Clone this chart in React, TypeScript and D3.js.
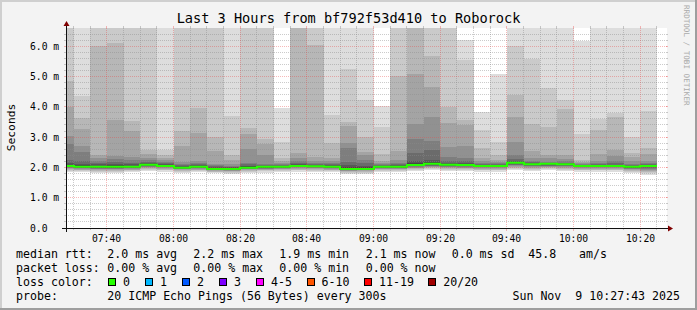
import React from "react";
import * as d3 from "d3";

// ---- data ----
const stepEnds = ["07:30","07:35","07:40","07:45","07:50","07:55","08:00","08:05","08:10","08:15","08:20","08:25","08:30","08:35","08:40","08:45","08:50","08:55","09:00","09:05","09:10","09:15","09:20","09:25","09:30","09:35","09:40","09:45","09:50","09:55","10:00","10:05","10:10","10:15","10:20","10:25"];

const medians = [2.05,2.02,2.02,2.02,2.02,2.09,2.05,1.99,2.02,1.95,1.95,1.99,2.02,2.02,2.05,2.04,2.02,1.95,1.95,2.02,2.02,2.08,2.12,2.09,2.08,2.05,2.05,2.15,2.1,2.12,2.1,2.05,2.05,2.05,2.02,2.05];

// 20 sorted ping RTTs (ms) per 5-minute step
const pingRows: number[][] = [
  [1.85,1.89,1.92,1.95,1.97,1.99,2.01,2.02,2.03,2.04, 2.06,2.09,2.14,2.24,2.77,3.04,3.98,4.85,7,7],
  [1.84,1.88,1.91,1.93,1.95,1.97,1.98,1.99,2.0,2.01, 2.04,2.07,2.12,2.2,2.51,2.69,3.27,3.63,4.36,7],
  [1.83,1.86,1.89,1.92,1.95,1.96,1.97,1.98,1.99,2.0, 2.04,2.06,2.1,2.15,2.22,2.3,2.4,6.0,7,7],
  [1.83,1.86,1.89,1.92,1.95,1.96,1.97,1.98,1.99,2.0, 2.04,2.07,2.11,2.18,2.28,2.36,3.56,6.11,7,7],
  [1.84,1.87,1.9,1.93,1.95,1.97,1.98,1.99,2.0,2.01, 2.04,2.06,2.1,2.16,2.25,2.33,3.2,3.53,7,7],
  [1.88,1.92,1.95,1.98,2.0,2.02,2.04,2.06,2.07,2.08, 2.1,2.12,2.15,2.19,2.24,2.3,2.43,2.58,7,7],
  [1.86,1.9,1.93,1.96,1.98,2.0,2.01,2.02,2.03,2.04, 2.06,2.08,2.1,2.14,2.18,2.23,2.3,2.42,2.56,7],
  [1.82,1.86,1.89,1.92,1.94,1.95,1.96,1.97,1.98,1.98, 2.0,2.02,2.05,2.08,2.12,2.18,2.71,3.2,7,7],
  [1.84,1.87,1.9,1.93,1.95,1.97,1.98,1.99,2.0,2.01, 2.03,2.05,2.07,2.1,2.14,2.2,3.13,3.97,7,7],
  [1.8,1.84,1.86,1.88,1.9,1.91,1.92,1.93,1.94,1.94, 1.96,1.98,2.0,2.03,2.07,2.12,2.55,3.0,7,7],
  [1.78,1.82,1.85,1.87,1.89,1.9,1.92,1.93,1.94,1.94, 1.96,1.98,2.0,2.02,2.05,2.1,2.23,2.4,3.68,7],
  [1.82,1.86,1.89,1.92,1.94,1.95,1.96,1.97,1.98,1.98, 2.0,2.03,2.06,2.1,2.15,2.62,3.1,3.31,7,7],
  [1.83,1.87,1.9,1.93,1.95,1.96,1.97,1.98,1.99,2.0, 2.03,2.04,2.06,2.08,2.12,2.42,2.78,2.94,7,7],
  [1.84,1.88,1.91,1.94,1.96,1.97,1.98,1.99,2.0,2.01, 2.03,2.04,2.05,2.07,2.1,2.14,2.2,2.31,2.84,3.96],
  [1.86,1.9,1.93,1.96,1.98,2.0,2.01,2.02,2.03,2.04, 2.06,2.08,2.1,2.14,2.2,2.3,2.46,7,7,7],
  [1.85,1.89,1.92,1.95,1.97,1.99,2.0,2.01,2.02,2.03, 2.05,2.06,2.08,2.11,2.16,2.22,2.33,6.04,7,7],
  [1.84,1.88,1.91,1.93,1.95,1.97,1.98,1.99,2.0,2.01, 2.03,2.05,2.07,2.1,2.14,2.2,2.3,2.79,3.74,7],
  [1.78,1.82,1.85,1.87,1.89,1.9,1.91,1.92,1.93,1.94, 1.97,2.01,2.08,2.18,2.65,2.81,3.35,3.5,5.24,7],
  [1.79,1.83,1.86,1.88,1.9,1.91,1.92,1.93,1.94,1.94, 1.97,2.0,2.05,2.13,2.25,2.42,2.52,3.0,4.21,7],
  [1.84,1.88,1.91,1.94,1.96,1.97,1.98,1.99,2.0,2.01, 2.03,2.04,2.06,2.08,2.11,2.15,2.22,2.45,3.32,4.04],
  [1.84,1.88,1.91,1.94,1.96,1.97,1.98,1.99,2.0,2.01, 2.03,2.05,2.07,2.11,2.16,2.25,2.54,5.02,7,7],
  [1.87,1.91,1.94,1.97,1.99,2.01,2.03,2.05,2.06,2.07, 2.1,2.14,2.22,2.48,2.94,3.44,5.09,7,7,7],
  [1.9,1.94,1.97,2.0,2.02,2.04,2.06,2.08,2.1,2.11, 2.14,2.17,2.24,2.58,2.88,3.67,4.65,5.66,7,7],
  [1.88,1.92,1.95,1.98,2.0,2.02,2.04,2.06,2.07,2.08, 2.1,2.12,2.15,2.2,2.34,2.67,3.47,3.99,7,7],
  [1.87,1.91,1.94,1.97,1.99,2.01,2.03,2.05,2.06,2.07, 2.09,2.11,2.14,2.2,2.3,2.72,3.41,3.57,5.53,6.19],
  [1.86,1.9,1.93,1.96,1.98,2.0,2.01,2.02,2.03,2.04, 2.05,2.06,2.08,2.1,2.14,2.2,2.3,2.65,3.24,3.82],
  [1.86,1.9,1.93,1.96,1.98,2.0,2.01,2.02,2.03,2.04, 2.06,2.07,2.08,2.1,2.13,2.17,2.24,2.4,2.84,5.09],
  [1.92,1.96,1.99,2.02,2.05,2.07,2.09,2.11,2.13,2.14, 2.16,2.18,2.22,2.28,2.4,2.84,3.66,4.4,6.0,7],
  [1.89,1.93,1.96,1.99,2.01,2.03,2.05,2.07,2.08,2.09, 2.11,2.12,2.14,2.17,2.22,2.3,2.53,3.43,5.59,7],
  [1.9,1.94,1.97,2.0,2.02,2.04,2.06,2.08,2.1,2.11, 2.12,2.13,2.14,2.16,2.18,2.3,2.42,3.34,4.62,7],
  [1.89,1.93,1.96,1.99,2.01,2.03,2.05,2.07,2.08,2.09, 2.1,2.11,2.13,2.16,2.2,2.28,2.4,3.92,4.22,7],
  [1.86,1.9,1.93,1.96,1.98,2.0,2.01,2.02,2.03,2.04, 2.05,2.06,2.07,2.08,2.1,2.13,2.17,2.23,3.1,6.17],
  [1.86,1.9,1.93,1.96,1.98,2.0,2.01,2.02,2.03,2.04, 2.06,2.07,2.09,2.12,2.16,2.22,2.44,3.23,3.61,7],
  [1.86,1.9,1.93,1.96,1.98,2.0,2.01,2.02,2.03,2.04, 2.06,2.07,2.09,2.13,2.2,2.36,2.57,3.67,3.81,7],
  [1.82,1.86,1.89,1.92,1.94,1.96,1.97,1.98,1.99,2.0, 2.03,2.04,2.06,2.08,2.12,2.2,2.34,2.47,2.99,7],
  [1.76,1.8,1.84,1.88,1.92,1.95,1.98,2.0,2.02,2.03, 2.05,2.06,2.08,2.1,2.14,2.22,2.45,2.65,3.86,7],
];

const rttLabels = ["2.0 ms avg", "2.2 ms max", "1.9 ms min", "2.1 ms now", "0.0 ms sd", "45.8", "am/s"];
const lossStatLabels = ["0.00 % avg", "0.00 % max", "0.00 % min", "0.00 % now"];
const lossLabels = ["0", "1", "2", "3", "4-5", "6-10", "11-19", "20/20"];
const lossColors = ["#26ff00", "#00b8ff", "#0059ff", "#7e00ff", "#ff00ff", "#ff5500", "#ff0000", "#a00000"];
const titleText = "Last 3 Hours from bf792f53d410 to Roborock";
const probeText = "20 ICMP Echo Pings (56 Bytes) every 300s";
const dateText = "Sun Nov  9 10:27:43 2025";
const unitText = "Seconds";
const watermark = "RRDTOOL / TOBI OETIKER";

const parseHM = (s: string) => {
  const [h, m] = s.split(":").map(Number);
  return new Date(2025, 10, 9, h, m, 0);
};

export default function App() {
  const W = 697, H = 310;
  const X0 = 66, X1 = 666, Y0 = 228, Y1 = 28;
  const YMAX = 6.6;
  const tStart = new Date(2025, 10, 9, 7, 27, 43);
  const tEnd = new Date(2025, 10, 9, 10, 27, 43);
  const x = d3.scaleTime().domain([tStart, tEnd]).range([X0, X1]);
  const y = d3.scaleLinear().domain([0, YMAX]).range([Y0, Y1]);

  const ends = stepEnds.map(parseHM);
  const starts = ends.map((e) => new Date(Math.max(+tStart, +e - 300000)));

  const mono = "DejaVu Sans Mono";
  const px = (v: number) => Math.floor(v) + 0.5;

  // smoke
  const smoke: JSX.Element[] = [];
  pingRows.forEach((row, i) => {
    const xa = Math.round(x(starts[i])), xb = Math.round(x(ends[i]));
    for (let b = 1; b <= 10; b++) {
      const lo = Math.min(row[b - 1], YMAX);
      const hi = Math.min(row[20 - b], YMAX);
      const g = Math.floor((190 / 10) * (10 - b)) + 50;
      const ya = Math.round(y(hi)), yb = Math.round(y(lo));
      smoke.push(
        <rect key={`s${i}-${b}`} x={xa} width={xb - xa} y={ya} height={Math.max(0, yb - ya)} fill={`rgb(${g},${g},${g})`} />
      );
    }
  });

  const medPts: [number, number][] = medians.map((m, i) => [Math.round(x(starts[i])), y(m)]);
  medPts.push([Math.round(x(ends[ends.length - 1])), y(medians[medians.length - 1])]);
  const medPath = d3.line().curve(d3.curveStepAfter)(medPts) || "";

  // grid
  const yMinor = y.ticks(33).filter((v) => v > 0.01 && v < YMAX - 0.05 && Math.abs(v - Math.round(v)) > 1e-6);
  const yMajor = y.ticks(7).filter((v) => v > 0.01);
  const xMinor = x.ticks(d3.timeMinute.every(5) as any).filter((t: Date) => t.getMinutes() % 20 !== 0);
  const xMajor = x.ticks(d3.timeMinute.every(20) as any);
  const fmt = d3.timeFormat("%H:%M");
  const gridCol = "rgba(140,140,140,0.45)";
  const mgridCol = "rgba(235,70,70,0.38)";

  const legendX = [107.3, 193.3, 279.3, 365.7, 451.7, 528.3, 579];
  const rowY = [258, 272, 286, 300];
  const cw = 6.8;
  const fs = 11.6;

  // loss colour legend layout
  const lossItems: { bx: number; lx: number; label: string; color: string }[] = [];
  let bx = 108;
  lossLabels.forEach((lab, i) => {
    lossItems.push({ bx, lx: bx + 15, label: lab, color: lossColors[i] });
    bx = bx + 15 + lab.length * cw + 15.2;
  });

  return (
    <svg width={W} height={H} style={{ position: "fixed", left: 0, top: 0 }} xmlns="http://www.w3.org/2000/svg">
      <rect x={0} y={0} width={W} height={H} fill="#f3f3f3" />
      {/* 3D border */}
      <rect x={0} y={0} width={W} height={2} fill="#cfcfcf" />
      <rect x={0} y={0} width={2} height={H} fill="#cfcfcf" />
      <rect x={0} y={H - 2} width={W} height={2} fill="#9e9e9e" />
      <rect x={W - 2} y={0} width={2} height={H} fill="#9e9e9e" />

      {/* canvas */}
      <rect x={X0} y={Y1} width={X1 - X0 + 1} height={Y0 - Y1} fill="#ffffff" />

      <g shapeRendering="crispEdges">{smoke}</g>

      {/* grid */}
      <g fill="none" strokeWidth={1}>
        {yMinor.map((v, i) => {
          const yy = px(y(v));
          return (
            <g key={`ym${i}`} stroke={gridCol}>
              <line x1={X0 - 2} x2={X0} y1={yy} y2={yy} />
              <line x1={X1} x2={X1 + 2} y1={yy} y2={yy} />
              <line x1={X0} x2={X1} y1={yy} y2={yy} strokeDasharray="1,1" />
            </g>
          );
        })}
        {xMinor.map((t: Date, i: number) => {
          const xx = px(x(t));
          return (
            <g key={`xm${i}`} stroke={gridCol}>
              <line x1={xx} x2={xx} y1={Y0} y2={Y0 + 2} />
              <line x1={xx} x2={xx} y1={Y1 - 2} y2={Y1} />
              <line x1={xx} x2={xx} y1={Y1} y2={Y0} strokeDasharray="1,1" />
            </g>
          );
        })}
        {yMajor.map((v, i) => {
          const yy = px(y(v));
          return (
            <g key={`yM${i}`} stroke={mgridCol}>
              <line x1={X0 - 2} x2={X0} y1={yy} y2={yy} />
              <line x1={X1} x2={X1 + 2} y1={yy} y2={yy} />
              <line x1={X0} x2={X1 + 2} y1={yy} y2={yy} strokeDasharray="1,1" />
            </g>
          );
        })}
        {xMajor.map((t: Date, i: number) => {
          const xx = px(x(t));
          return (
            <g key={`xM${i}`} stroke={mgridCol}>
              <line x1={xx} x2={xx} y1={Y0} y2={Y0 + 3} />
              <line x1={xx} x2={xx} y1={Y1 - 2} y2={Y1} />
              <line x1={xx} x2={xx} y1={Y1} y2={Y0} strokeDasharray="1,1" />
            </g>
          );
        })}
      </g>

      {/* median */}
      <path d={medPath} fill="none" stroke={lossColors[0]} strokeWidth={2} />

      {/* axes */}
      <line x1={X0 - 4} x2={X1 + 4} y1={Y0 + 0.5} y2={Y0 + 0.5} stroke="#101010" strokeWidth={1} />
      <line x1={X0 + 0.5} x2={X0 + 0.5} y1={Y0 + 4} y2={Y1 - 4} stroke="#101010" strokeWidth={1} />
      <path d={`M${X1 + 2},${Y0 - 2.5} L${X1 + 2},${Y0 + 3.5} L${X1 + 7},${Y0 + 0.5} Z`} fill="#800000" />
      <path d={`M${X0 - 2.5},${Y1 - 2} L${X0 + 3.5},${Y1 - 2} L${X0 + 0.5},${Y1 - 7} Z`} fill="#800000" />

      {/* axis labels */}
      <g fontFamily={mono} fontSize={9.7} fill="#000">
        {xMajor.map((t: Date, i: number) => (
          <text key={`xl${i}`} x={px(x(t))} y={241.5} textAnchor="middle">{fmt(t)}</text>
        ))}
        {y.ticks(7).map((v, i) => (
          <text key={`yl${i}`} x={30} y={px(y(v)) + 3.5}>{v === 0 ? "0.0" : `${v.toFixed(1)} m`}</text>
        ))}
      </g>

      {/* title, unit, watermark */}
      <text x={W / 2} y={23} textAnchor="middle" fontFamily={mono} fontSize={13.6} fill="#000">{titleText}</text>
      <text transform="translate(15,127.5) rotate(-90)" textAnchor="middle" fontFamily={mono} fontSize={11.3} fill="#000">{unitText}</text>
      <text transform="translate(684,5) rotate(90)" fontFamily={mono} fontSize={7.6} fill="#aaaaaa">{watermark}</text>

      {/* legend */}
      <g fontFamily={mono} fontSize={fs} fill="#000">
        <text x={16} y={rowY[0]}>median rtt:</text>
        {rttLabels.map((s, i) => (
          <text key={`r${i}`} x={legendX[i]} y={rowY[0]}>{s}</text>
        ))}
        <text x={16} y={rowY[1]}>packet loss:</text>
        {lossStatLabels.map((s, i) => (
          <text key={`l${i}`} x={legendX[i]} y={rowY[1]}>{s}</text>
        ))}
        <text x={16} y={rowY[2]}>loss color:</text>
        {lossItems.map((it, i) => (
          <g key={`lc${i}`}>
            <rect x={Math.round(it.bx) + 0.5} y={rowY[2] - 7.5} width={7} height={7} fill={it.color} stroke="#000" strokeWidth={1} />
            <text x={it.lx} y={rowY[2]}>{it.label}</text>
          </g>
        ))}
        <text x={16} y={rowY[3]}>probe:</text>
        <text x={legendX[0]} y={rowY[3]}>{probeText}</text>
        <text x={680} y={rowY[3]} textAnchor="end" xmlSpace="preserve" style={{ whiteSpace: "pre" }}>{dateText}</text>
      </g>
    </svg>
  );
}
